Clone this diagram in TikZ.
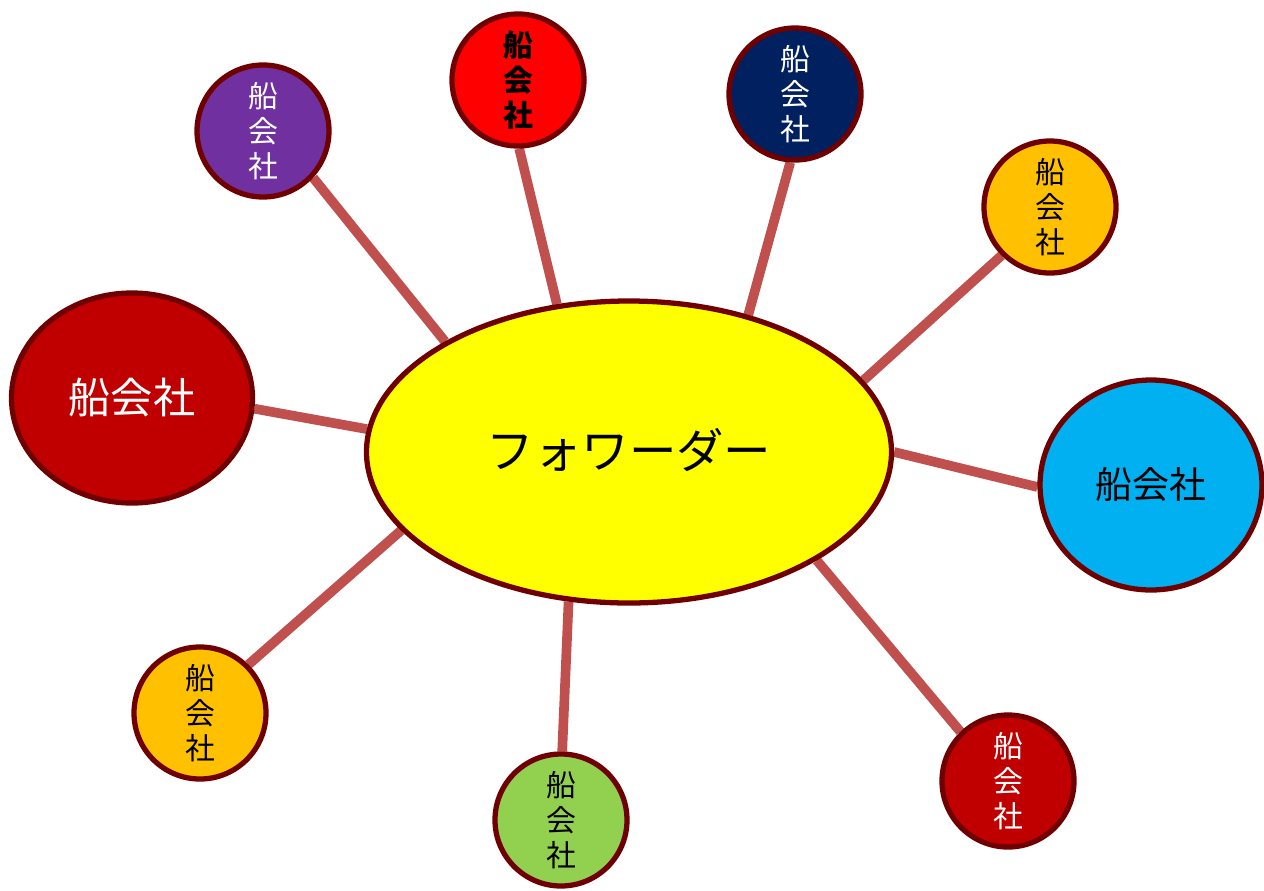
\documentclass[tikz,border=0pt]{standalone}
\usepackage{fontspec}
\newfontfamily\cjk{Noto Sans CJK JP}
\usetikzlibrary{shapes.geometric,backgrounds}
\definecolor{rim}{HTML}{700000}
\definecolor{link}{HTML}{C0504D}
\definecolor{cdarkred}{HTML}{C00000}
\definecolor{cblue}{HTML}{00B0F0}
\definecolor{cpurple}{HTML}{7030A0}
\definecolor{cred}{HTML}{FF0000}
\definecolor{cnavy}{HTML}{002060}
\definecolor{corange}{HTML}{FFC000}
\definecolor{cgreen}{HTML}{92D050}
\definecolor{cyellow}{HTML}{FFFF00}
\tikzset{
  bubble/.style={circle, draw=rim, line width=3pt, minimum size=2.64cm, inner sep=0pt, align=center,
    font=\cjk\fontsize{17}{20}\selectfont},
  bigoval/.style={ellipse, draw=rim, line width=3pt, inner sep=0pt},
  linkline/.style={draw=link, line width=5.5pt}
}
\begin{document}
\begin{tikzpicture}
\useasboundingbox (0,0) rectangle (25.28,-17.8);
\node[bigoval, fill=cyellow, minimum width=10.5cm, minimum height=6.04cm, font=\cjk\fontsize{27}{31}\selectfont] (fw) at (12.58,-9.04) {\raisebox{4pt}{フォワーダー}};
\node[bigoval, fill=cdarkred, text=white, minimum width=4.82cm, minimum height=4.2cm, font=\cjk\fontsize{24}{28}\selectfont] (left) at (2.64,-7.96) {船会社};
\node[bigoval, fill=cblue, text=black, minimum width=4.44cm, minimum height=4.2cm, font=\cjk\fontsize{21}{25}\selectfont] (right) at (23.02,-9.70) {船会社};
\node[bubble, fill=cpurple, text=white] (purple) at (5.26,-2.62) {船\\会\\社};
\node[bubble, fill=cred, text=black, font=\cjk\bfseries\fontsize{17}{20}\selectfont] (red) at (10.36,-1.60) {船\\会\\社};
\node[bubble, fill=cnavy, text=white] (navy) at (15.90,-1.88) {船\\会\\社};
\node[bubble, fill=corange, text=black] (orangetr) at (21.00,-4.14) {船\\会\\社};
\node[bubble, fill=corange, text=black] (orangebl) at (4.00,-14.26) {船\\会\\社};
\node[bubble, fill=cgreen, text=black] (green) at (11.22,-16.40) {船\\会\\社};
\node[bubble, fill=cdarkred, text=white] (darkred) at (20.16,-15.62) {船\\会\\社};
\begin{scope}[on background layer]
\draw[linkline] (purple.-43) -- (fw.149.6);
\draw[linkline] (red.-89) -- (fw.116);
\draw[linkline] (navy.-94) -- (fw.49.4);
\draw[linkline] (orangetr.225.6) -- (fw.17.2);
\draw[linkline] (fw.0.4) -- (right.181);
\draw[linkline] (fw.-30.6) -- (darkred.134);
\draw[linkline] (fw.248) -- (green.89);
\draw[linkline] (fw.199.3) -- (orangebl.45);
\draw[linkline] (left.-5) -- (fw.175);
\end{scope}
\end{tikzpicture}
\end{document}
